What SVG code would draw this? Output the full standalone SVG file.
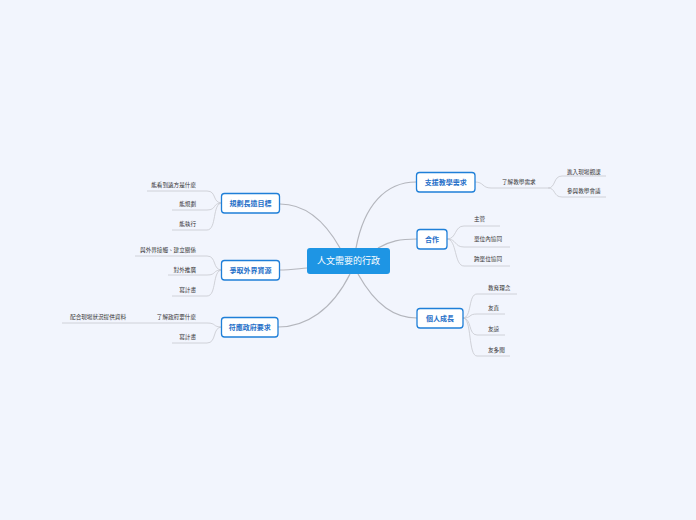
<svg xmlns="http://www.w3.org/2000/svg" width="696" height="520" viewBox="0 0 696 520">
<style>
.bg{fill:#f2f5fd}
.main{fill:#ffffff;stroke:#1f7fd8;stroke-width:1.3}
.mt{font-family:"Liberation Sans","Noto Sans CJK TC",sans-serif;font-size:7px;font-weight:bold;fill:#1f6fc8;text-anchor:middle}
.st{font-family:"Liberation Sans","Noto Sans CJK TC",sans-serif;font-size:5.6px;fill:#333333}
.ct{font-family:"Liberation Sans","Noto Sans CJK TC",sans-serif;font-size:9px;fill:#ffffff;text-anchor:middle}
.c1{fill:none;stroke:#b4b6bd;stroke-width:1.2}
.c2{fill:none;stroke:#c6c8ce;stroke-width:0.8}
.end{text-anchor:end}
</style>
<rect class="bg" x="0" y="0" width="696" height="520"/>
<g id="connectors">
<path class="c1" d="M356,248 C364,205 386,182 416,182"/>
<path class="c1" d="M378,248 C390,241 400,239 417,239"/>
<path class="c1" d="M340,248 C322,216 302,204 280,204"/>
<path class="c1" d="M307,268 C296,269 290,270 279,270"/>
<path class="c1" d="M350,274 C332,310 306,327 278,327"/>
<path class="c1" d="M358,274 C376,306 395,318 417,318"/>
<path class="c2" d="M475,182 C484,182 482,188 491,188 L548,188"/>
<path class="c2" d="M548,188 C556,188 553,176 562,176 L606,176"/>
<path class="c2" d="M548,188 C556,188 553,197 562,197 L606,197"/>
<path class="c2" d="M447,239 C457,239 454,226 464,226 L500,226"/>
<path class="c2" d="M447,239 C457,239 454,247 464,247 L510,247"/>
<path class="c2" d="M447,239 C457,239 454,266 464,266 L510,266"/>
<path class="c2" d="M463,318 C472,318 468,294 477,294 L517,294"/>
<path class="c2" d="M463,318 C472,318 468,314 477,314 L505,314"/>
<path class="c2" d="M463,318 C472,318 468,335 477,335 L505,335"/>
<path class="c2" d="M463,318 C472,318 468,356 477,356 L510,356"/>
<path class="c2" d="M222,203 C212,203 217,191 207,191 L147,191"/>
<path class="c2" d="M222,203 C212,203 217,210 207,210 L172,210"/>
<path class="c2" d="M222,203 C212,203 217,230 207,230 L172,230"/>
<path class="c2" d="M222,270 C212,270 217,256 207,256 L135,256"/>
<path class="c2" d="M222,270 C212,270 217,275 207,275 L168,275"/>
<path class="c2" d="M222,270 C212,270 217,296 207,296 L172,296"/>
<path class="c2" d="M222,327 C212,327 217,323 207,323 L62,323"/>
<path class="c2" d="M222,327 C212,327 217,343 207,343 L172,343"/>
</g>
<g id="center">
<rect x="307" y="248" width="83" height="26" rx="3" fill="#1e95e4"/>
<text class="ct" x="348.5" y="264.2">人文需要的行政</text>
</g>
<g id="n-support">
<rect class="main" x="416.5" y="172.5" width="58.5" height="19.5" rx="3"/>
<text class="mt" x="445.7" y="184.6">支援教學需求</text>
</g>
<g id="n-support-1"><text class="st" x="502" y="184">了解教學需求</text></g>
<g id="n-support-1a"><text class="st" x="567" y="174">進入現場觀課</text></g>
<g id="n-support-1b"><text class="st" x="567" y="193">參與教學會議</text></g>
<g id="n-coop">
<rect class="main" x="417" y="229.5" width="30" height="19.5" rx="3"/>
<text class="mt" x="432" y="241.6">合作</text>
</g>
<g id="n-coop-1"><text class="st" x="474" y="221">主管</text></g>
<g id="n-coop-2"><text class="st" x="474" y="241">單位內協同</text></g>
<g id="n-coop-3"><text class="st" x="474" y="261">跨單位協同</text></g>
<g id="n-growth">
<rect class="main" x="417" y="308.5" width="46" height="19.5" rx="3"/>
<text class="mt" x="440" y="320.6">個人成長</text>
</g>
<g id="n-growth-1"><text class="st" x="488" y="290">教育理念</text></g>
<g id="n-growth-2"><text class="st" x="488" y="310">友直</text></g>
<g id="n-growth-3"><text class="st" x="488" y="331">友諒</text></g>
<g id="n-growth-4"><text class="st" x="488" y="352">友多聞</text></g>
<g id="n-plan">
<rect class="main" x="221.5" y="193.5" width="58" height="19.5" rx="3"/>
<text class="mt" x="250.5" y="205.6">規劃長遠目標</text>
</g>
<g id="n-plan-1"><text class="st end" x="196" y="187">能看到遠方是什麼</text></g>
<g id="n-plan-2"><text class="st end" x="196" y="206">能規劃</text></g>
<g id="n-plan-3"><text class="st end" x="196" y="226">能執行</text></g>
<g id="n-resource">
<rect class="main" x="221.5" y="260.5" width="58" height="19.5" rx="3"/>
<text class="mt" x="250.5" y="272.6">爭取外界資源</text>
</g>
<g id="n-resource-1"><text class="st end" x="196" y="252">與外界接觸、建立關係</text></g>
<g id="n-resource-2"><text class="st end" x="196" y="272">對外推廣</text></g>
<g id="n-resource-3"><text class="st end" x="196" y="292">寫計畫</text></g>
<g id="n-gov">
<rect class="main" x="221.5" y="317.5" width="56.5" height="19.5" rx="3"/>
<text class="mt" x="249.7" y="329.6">符應政府要求</text>
</g>
<g id="n-gov-1"><text class="st end" x="196" y="319">了解政府要什麼</text></g>
<g id="n-gov-1a"><text class="st end" x="126" y="319">配合現場狀況提供資料</text></g>
<g id="n-gov-2"><text class="st end" x="196" y="339">寫計畫</text></g>
</svg>
